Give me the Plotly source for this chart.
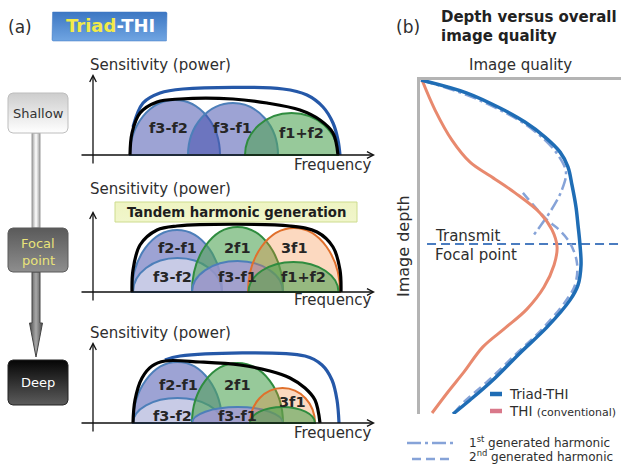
import numpy as np
import plotly.graph_objects as go

W, H = 621, 465

# ---------------- panel (a): band spectra ----------------
# frequency unit: arbitrary (0 = sensitivity axis), sensitivity unit: arbitrary (0 = baseline)
shallow_bands = ['f3-f2', 'f3-f1', 'f1+f2']
shallow_center = [8.2, 14.0, 19.85]
shallow_halfwidth = [4.5, 4.5, 4.65]
shallow_power = [5.5, 5.2, 4.2]

focal_bands = ['f2-f1', 'f3-f2', '2f1', 'f3-f1', '3f1', 'f1+f2']
focal_center = [8.4, 8.45, 14.45, 14.45, 20.1, 20.05]
focal_halfwidth = [4.5, 4.45, 4.55, 4.55, 4.6, 4.5]
focal_power = [6.2, 3.4, 6.5, 3.1, 6.4, 3.0]

deep_bands = ['f2-f1', 'f3-f2', '2f1', 'f3-f1', '3f1', 'f1+f2']
deep_center = [8.45, 8.45, 14.45, 14.45, 18.95, 18.95]
deep_halfwidth = [4.45, 4.45, 4.55, 4.55, 3.25, 3.25]
deep_power = [6.1, 2.5, 6.0, 1.6, 3.5, 1.6]

# overall sensitivity envelopes (black = combined harmonics, blue = Triad-THI transmit)
shallow_total_freq = [3.7, 3.9, 4.7, 6.4, 8.7, 14.0, 17.4, 20.7, 22.7, 24.0, 24.5]
shallow_total_pow = [0, 2.2, 4.2, 5.3, 5.6, 5.6, 5.2, 4.5, 3.5, 2.2, 0]
shallow_triad_freq = [4.0, 5.0, 6.7, 9.0, 19.0, 21.4, 23.0, 24.0, 24.5, 24.7]
shallow_triad_pow = [2.8, 5.2, 6.2, 6.6, 6.6, 6.0, 4.8, 3.2, 1.5, 0]

focal_total_freq = [3.9, 4.0, 4.7, 6.4, 8.4, 19.7, 22.4, 24.0, 24.7, 24.8]
focal_total_pow = [0, 2.2, 4.7, 6.2, 6.6, 6.6, 6.0, 4.5, 2.2, 0]

deep_total_freq = [4.0, 4.2, 4.9, 5.9, 7.2, 10.7, 14.7, 17.7, 19.7, 21.2, 22.2, 22.7]
deep_total_pow = [0, 2.3, 4.5, 5.7, 6.2, 6.1, 5.8, 5.2, 4.5, 3.5, 2.3, 0]
deep_triad_freq = [7.2, 8.7, 21.2, 22.9, 23.9, 24.4, 24.6]
deep_triad_pow = [6.3, 6.7, 6.7, 5.8, 4.3, 2.3, 0]

# ---------------- panel (b): depth vs image quality ----------------
triad_quality = [0.5, 23.4, 39.8, 52.2, 62.2, 69.7, 73.6, 75.6, 77.6, 78.6, 79.6, 80.1, 78.6, 74.6, 63.2, 49.8, 36.3, 24.9, 16.4]
triad_depth = [0, 3.9, 8.4, 12.6, 17.1, 21.6, 26.0, 31.4, 38.0, 43.4, 49.4, 55.4, 61.4, 65.9, 74.0, 81.7, 89.8, 95.8, 100]
thi_quality = [1.0, 7.5, 15.9, 24.9, 34.8, 47.3, 59.7, 65.7, 68.2, 66.7, 61.7, 53.2, 42.3, 31.3, 21.9, 13.9, 6.0]
thi_depth = [0, 9.0, 18.0, 24.6, 28.7, 33.8, 39.8, 44.9, 50.0, 55.4, 62.0, 68.6, 74.3, 79.9, 87.4, 93.4, 99.7]
harm1_quality = [0.5, 23.4, 39.8, 52.2, 62.2, 68.7, 72.6, 70.6, 64.7, 56.2]
harm1_depth = [0, 4.5, 9.0, 13.2, 18.0, 22.5, 27.5, 32.9, 39.5, 46.7]
harm2_quality = [51.2, 63.2, 68.2, 74.6, 78.1, 77.1, 72.1, 60.7, 47.3, 33.8, 22.4, 17.4]
harm2_depth = [33.8, 41.9, 44.3, 48.8, 54.8, 61.4, 66.5, 74.6, 82.3, 90.1, 96.1, 99.4]
focal_depth = 49.1
transmit_quality = [3.5, 100]

# ---------------- styles ----------------
FONT = 'DejaVu Sans'
TXT = '#2e2e2e'
FILL = {'blue': 'rgba(60,72,170,0.5)', 'blue_light': 'rgba(229,230,242,0.6)',
        'blue_mid': 'rgba(166,145,225,0.72)', 'green': 'rgba(79,164,84,0.59)',
        'orange': 'rgba(245,128,45,0.3)'}
EDGE = {'blue': '#4d7fb9', 'blue_light': '#4d7fb9', 'blue_mid': '#4d7fb9',
        'green': '#2f8c3f', 'orange': '#e0702c'}


def px(x):
    return x / W


def py(y):
    return 1 - y / H


fig = go.Figure()
shapes, annotations = [], []


def note(x, y, text, size=13, color=TXT, xanchor='center', angle=0):
    annotations.append(dict(x=px(x), y=py(y), xref='paper', yref='paper', text=text, showarrow=False,
                            xanchor=xanchor, yanchor='middle', textangle=angle,
                            font=dict(family=FONT, size=size, color=color)))


def arch_path(c, hw, h):
    k = 0.5523
    return (f"M{c-hw},0 C{c-hw},{k*h} {c-k*hw},{h} {c},{h} "
            f"C{c+k*hw},{h} {c+hw},{k*h} {c+hw},0 Z")


panels = [
    dict(k=1, top=70, base=155, bands=shallow_bands, c=shallow_center, hw=shallow_halfwidth, p=shallow_power,
         style=['blue', 'blue', 'green'],
         lab=[(7.5, 2.7), (13.9, 2.7), (20.8, 2.2)],
         env=[(shallow_triad_freq, shallow_triad_pow, '#2558a8'), (shallow_total_freq, shallow_total_pow, '#000000')],
         sens_py=65, freq_py=165),
    dict(k=2, top=207, base=292, bands=focal_bands, c=focal_center, hw=focal_halfwidth, p=focal_power,
         style=['blue', 'blue_light', 'green', 'blue_mid', 'orange', 'green'],
         lab=[(8.4, 4.4), (7.9, 1.5), (14.4, 4.4), (14.4, 1.5), (20.1, 4.4), (21.0, 1.5)],
         env=[(focal_total_freq, focal_total_pow, '#000000')],
         sens_py=189, freq_py=300),
    dict(k=3, top=338, base=423, bands=deep_bands, c=deep_center, hw=deep_halfwidth, p=deep_power,
         style=['blue', 'blue_light', 'green', 'blue_mid', 'orange', 'green'],
         lab=[(8.5, 3.8), (7.9, 0.7), (14.4, 3.8), (14.4, 0.7), (19.9, 2.1), None],
         env=[(deep_triad_freq, deep_triad_pow, '#2558a8'), (deep_total_freq, deep_total_pow, '#000000')],
         sens_py=333, freq_py=433),
]

layout_axes = {}
for P in panels:
    k = P['k']
    xa = 'x' if k == 1 else f'x{k}'
    ya = 'y' if k == 1 else f'y{k}'
    xn = 'xaxis' if k == 1 else f'xaxis{k}'
    yn = 'yaxis' if k == 1 else f'yaxis{k}'
    bottom = P['top'] + 100
    layout_axes[xn] = dict(domain=[px(78), px(380)], range=[-1.5, 28.7], visible=False, anchor=ya)
    layout_axes[yn] = dict(domain=[py(bottom), py(P['top'])], range=[-1.5, 8.5], visible=False, anchor=xa)
    for c, hw, h, st in zip(P['c'], P['hw'], P['p'], P['style']):
        shapes.append(dict(type='path', path=arch_path(c, hw, h), xref=xa, yref=ya, layer='below',
                           fillcolor=FILL[st], line=dict(color=EDGE[st], width=2)))
    for fx, fy, col in P['env']:
        fig.add_trace(go.Scatter(x=fx, y=fy, mode='lines', xaxis=xa, yaxis=ya,
                                 line=dict(color=col, width=3.2, shape='spline', smoothing=1.0),
                                 hoverinfo='skip'))
    for name, pos in zip(P['bands'], P['lab']):
        if pos is None:
            continue
        annotations.append(dict(x=pos[0], y=pos[1], xref=xa, yref=ya, text=f'<b>{name}</b>', showarrow=False,
                                font=dict(family=FONT, size=14.5, color='#262626')))
    # axes arrows
    annotations.append(dict(x=28.2, y=0, ax=-1.3, ay=0, xref=xa, yref=ya, axref=xa, ayref=ya, text='',
                            showarrow=True, arrowhead=5, arrowsize=1, arrowwidth=1.3, arrowcolor='#111'))
    annotations.append(dict(x=0, y=8.1, ax=0, ay=-1.0, xref=xa, yref=ya, axref=xa, ayref=ya, text='',
                            showarrow=True, arrowhead=5, arrowsize=1, arrowwidth=1.3, arrowcolor='#111'))
    note(88, P['sens_py'], 'Sensitivity (power)', 15, xanchor='left')
    note(374, P['freq_py'], 'Frequency', 15, xanchor='right')

# ---------------- panel (b) traces ----------------
layout_axes['xaxis4'] = dict(domain=[px(420), 1], range=[0, 100], side='top', anchor='y4', showline=True,
                             linecolor='#b4b4b4', linewidth=3, showticklabels=False, ticks='',
                             showgrid=False, zeroline=False)
layout_axes['yaxis4'] = dict(domain=[py(414), py(80)], range=[100, 0], anchor='x4', showline=True,
                             linecolor='#b4b4b4', linewidth=3, showticklabels=False, ticks='',
                             showgrid=False, zeroline=False)

fig.add_trace(go.Scatter(x=transmit_quality, y=[focal_depth, focal_depth], mode='lines', xaxis='x4', yaxis='y4',
                         line=dict(color='#4a7cc0', width=2, dash='9px,5px'), hoverinfo='skip'))
fig.add_trace(go.Scatter(x=harm1_quality, y=harm1_depth, mode='lines', xaxis='x4', yaxis='y4',
                         line=dict(color='#86a3d8', width=2.5, dash='12px,4px,3px,4px', shape='spline'),
                         hoverinfo='skip'))
fig.add_trace(go.Scatter(x=harm2_quality, y=harm2_depth, mode='lines', xaxis='x4', yaxis='y4',
                         line=dict(color='#86a3d8', width=2.5, dash='9px,5px', shape='spline'), hoverinfo='skip'))
fig.add_trace(go.Scatter(x=thi_quality, y=thi_depth, mode='lines', xaxis='x4', yaxis='y4',
                         line=dict(color='#e8896e', width=3, shape='spline'), hoverinfo='skip'))
fig.add_trace(go.Scatter(x=triad_quality, y=triad_depth, mode='lines', xaxis='x4', yaxis='y4',
                         line=dict(color='#1f6db5', width=3.5, shape='spline'), hoverinfo='skip'))

# ---------------- decorations (pixel axis) ----------------
layout_axes['xaxis5'] = dict(domain=[0, 1], range=[0, W], visible=False, anchor='y5', fixedrange=True)
layout_axes['yaxis5'] = dict(domain=[0, 1], range=[H, 0], visible=False, anchor='x5', fixedrange=True)


def rounded(x0, y0, x1, y1, r, n=8):
    xs, ys = [], []
    for cx, cy, a0 in [(x1 - r, y0 + r, -90), (x1 - r, y1 - r, 0), (x0 + r, y1 - r, 90), (x0 + r, y0 + r, 180)]:
        for t in np.linspace(a0, a0 + 90, n):
            xs.append(cx + r * np.cos(np.radians(t)))
            ys.append(cy + r * np.sin(np.radians(t)))
    xs.append(xs[0]); ys.append(ys[0])
    return xs, ys


def deco(xs, ys, grad_type, cols, edge, ew=1):
    cs = [[i / (len(cols) - 1), c] for i, c in enumerate(cols)]
    fig.add_trace(go.Scatter(x=xs, y=ys, mode='lines', fill='toself', xaxis='x5', yaxis='y5',
                             fillgradient=dict(type=grad_type, colorscale=cs),
                             line=dict(color=edge, width=ew), hoverinfo='skip'))


deco(*rounded(52, 12, 167, 41, 1), 'vertical', ['#70a5e2', '#3c77c3'], '#3c77c3', 0.5)
deco([32, 40, 40, 32, 32], [133, 133, 228, 228, 133], 'horizontal', ['#a0a0a0', '#ffffff', '#a0a0a0'], '#9a9a9a')
deco([32, 40, 40, 42.5, 36, 29.5, 32, 32], [272, 272, 323, 323, 357, 323, 323, 272], 'horizontal',
     ['#4a4a4a', '#a8a8a8', '#4a4a4a'], '#444444')
deco(*rounded(8, 93, 68, 133, 5), 'vertical', ['#ffffff', '#cdcdcd'], '#bdbdbd')
deco(*rounded(8, 228, 68, 272, 5), 'vertical', ['#8e8e8e', '#5a5a5a'], '#5a5a5a')
deco(*rounded(8, 360, 68, 405, 5), 'vertical', ['#5c5c5c', '#050505'], '#222222')
deco([115, 357, 357, 115, 115], [202, 202, 222, 222, 202], 'vertical', ['#f1f6cb', '#eef4c2'], '#cddc8e')

# ---------------- texts ----------------
note(20, 27, '(a)', 17)
note(110, 26, "<b><span style='color:#f2ea48'>Triad</span>-THI</b>", 18, '#ffffff')
note(38, 113, 'Shallow', 13, '#333333')
note(38, 243, 'Focal', 13, '#e9e37a')
note(38, 260, 'point', 13, '#e9e37a')
note(38, 382, 'Deep', 13, '#ffffff')
note(236, 212, '<b>Tandem harmonic generation</b>', 13.3, '#1e1e1e')
note(408, 27, '(b)', 17)
note(439, 17, '<b>Depth versus overall</b>', 15, '#222222', 'left')
note(439, 36, '<b>image quality</b>', 15, '#222222', 'left')
note(520, 65, 'Image quality', 15)
note(403, 246, 'Image depth', 16, angle=-90)
note(433, 236, 'Transmit', 15, xanchor='left')
note(433, 255, 'Focal point', 15, xanchor='left')
note(507, 394, 'Triad-THI', 13.5, xanchor='left')
note(507, 411, "THI <span style='font-size:11px'>(conventional)</span>", 13.5, xanchor='left')
note(467, 442, '1<sup>st</sup> generated harmonic', 12, xanchor='left')
note(467, 456, '2<sup>nd</sup> generated harmonic', 12, xanchor='left')

# legend swatches
shapes.append(dict(type='line', xref='paper', yref='paper', x0=px(490), x1=px(502), y0=py(394), y1=py(394),
                   line=dict(color='#1f6db5', width=4.5)))
shapes.append(dict(type='line', xref='paper', yref='paper', x0=px(490), x1=px(502), y0=py(411), y1=py(411),
                   line=dict(color='#d9788a', width=4.5)))
shapes.append(dict(type='line', xref='paper', yref='paper', x0=px(407), x1=px(455), y0=py(443), y1=py(443),
                   line=dict(color='#86a3d8', width=2.5, dash='14px,4px,3px,4px')))
shapes.append(dict(type='line', xref='paper', yref='paper', x0=px(412), x1=px(452), y0=py(459), y1=py(459),
                   line=dict(color='#86a3d8', width=2.5, dash='9px,5px')))

fig.update_layout(width=W, height=H, margin=dict(l=0, r=0, t=0, b=0), paper_bgcolor='white',
                  plot_bgcolor='rgba(0,0,0,0)', showlegend=False, shapes=shapes, annotations=annotations,
                  **layout_axes)

fig.write_html("out.html", config={'displayModeBar': False},
               post_script="document.body.style.margin='0';")
